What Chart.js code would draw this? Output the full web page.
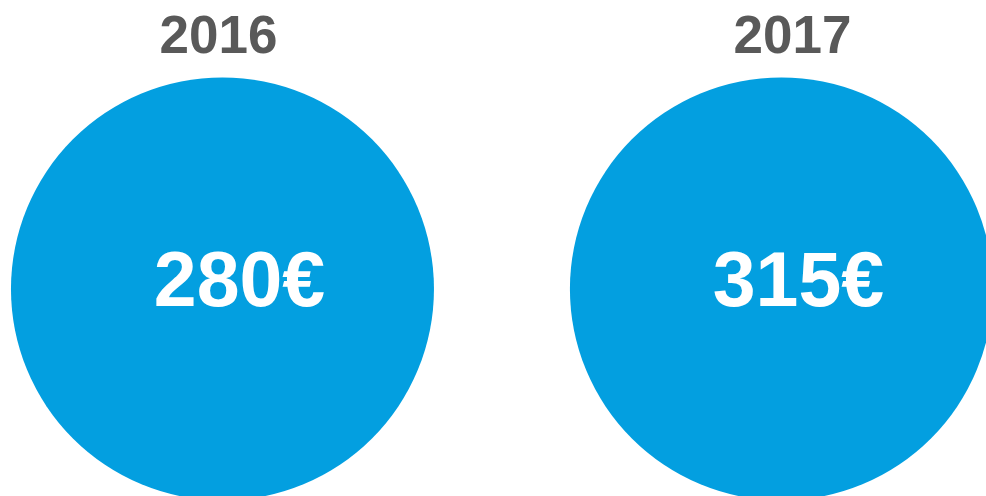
<!DOCTYPE html>
<html>
<head>
<meta charset="utf-8">
<script src="https://cdn.jsdelivr.net/npm/chart.js@4.4.0/dist/chart.umd.min.js"></script>
<style>
    html, body { margin: 0; padding: 0; background: #fff; }
    .chart-wrap { position: relative; width: 986px; height: 496px; }
</style>
</head>
<body>
<div class="chart-wrap"><canvas id="priceChart"></canvas></div>
<script>
// Chart data
const years = ['2016', '2017'];
const prices = [280, 315];
const valueLabels = ['280€', '315€'];

document.addEventListener('DOMContentLoaded', function() {
    const ctx = document.getElementById('priceChart');

    // Draw the year above each circle and the price inside it
    const bubbleLabels = {
        id: 'bubbleLabels',
        afterDatasetsDraw(chart) {
            const c = chart.ctx;
            const meta = chart.getDatasetMeta(0);
            c.save();
            c.textAlign = 'center';
            c.textBaseline = 'middle';
            meta.data.forEach((el, i) => {
                const r = el.options.radius;
                c.fillStyle = '#595959';
                c.font = 'bold 53px "Liberation Sans", Arial, sans-serif';
                c.fillText(years[i], el.x + (i === 0 ? -4 : 11), el.y - r - 39);

                c.fillStyle = '#ffffff';
                c.font = 'bold 77px "Liberation Sans", Arial, sans-serif';
                c.fillText(valueLabels[i], el.x + 17, el.y - 4);
            });
            c.restore();
        }
    };

    new Chart(ctx, {
        type: 'bubble',
        data: {
            datasets: [{
                label: 'Price',
                data: years.map((y, i) => ({ x: i, y: 0, price: prices[i] })),
                backgroundColor: '#039FE0',
                borderWidth: 0,
                radius: 211.5,
                hoverRadius: 0,
                clip: false
            }]
        },
        options: {
            responsive: true,
            maintainAspectRatio: false,
            animation: false,
            layout: { padding: 0, autoPadding: false },
            plugins: {
                legend: { display: false },
                tooltip: { enabled: false }
            },
            scales: {
                x: { type: 'linear', display: false, min: -0.398, max: 1.366 },
                y: { type: 'linear', display: false, min: -0.835, max: 1.165 }
            }
        },
        plugins: [bubbleLabels]
    });
});
</script>
</body>
</html>
